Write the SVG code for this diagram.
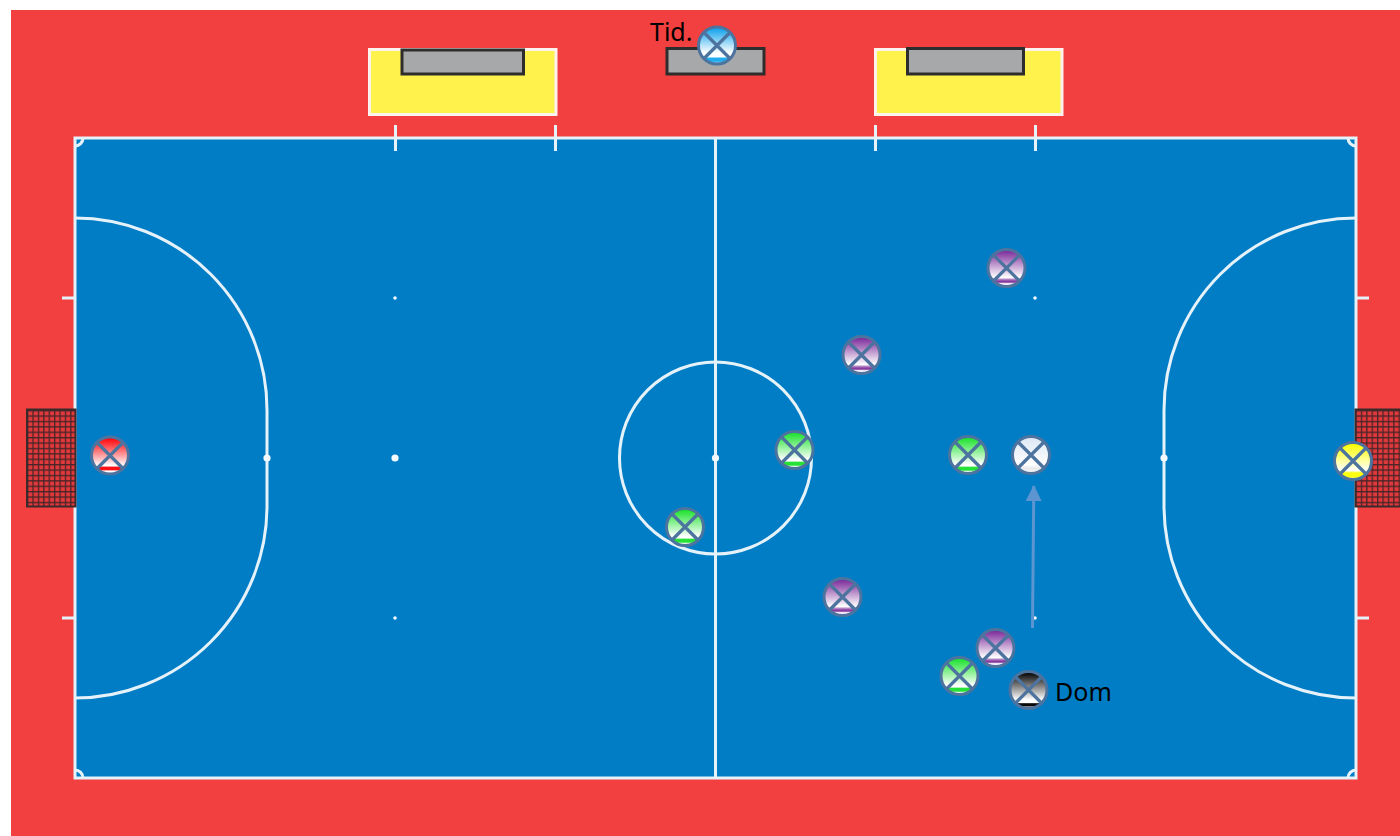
<svg xmlns="http://www.w3.org/2000/svg" width="1400" height="836" viewBox="0 0 1400 836">
<style>
.ln{fill:none;stroke:#e6f2f9;stroke-width:3}
.dot{fill:#f4fafd}
.bench{fill:#fff24d;stroke:#fdf3ee;stroke-width:3}
.seat{fill:#a6a8aa;stroke:#2e2d2d;stroke-width:3}
.net{fill:url(#mesh);stroke:#3a2a2c;stroke-width:2}
.ring{stroke:#4d739f;stroke-width:3}
.x{stroke:#4d739f;stroke-width:3.200;fill:none}
.lab{font-family:"Noto Sans","DejaVu Sans",sans-serif;font-size:25px;fill:#000}
.arrow{stroke:#5c95cf;stroke-width:3;fill:none;marker-end:url(#head)}
</style>
<defs>
<pattern id="mesh" width="5.400" height="5.400" patternUnits="userSpaceOnUse" x="27" y="410">
<rect width="5.400" height="5.400" fill="#e0393c"/>
<path d="M0 0H5.400M0 0V5.400" stroke="#4a2528" stroke-width="2.600" fill="none"/>
</pattern>
<marker id="head" markerUnits="userSpaceOnUse" markerWidth="16" markerHeight="16" refX="15" refY="8" orient="auto">
<path d="M0 0L16 8L0 16Z" fill="#5c95cf"/>
</marker>
<linearGradient id="gRed" x1="0" y1="0" x2="0" y2="1">
<stop offset=".04" stop-color="#ff0509"/><stop offset=".78" stop-color="#fff"/><stop offset=".82" stop-color="#ff1015"/><stop offset=".88" stop-color="#ff1015"/><stop offset=".92" stop-color="#fff"/><stop offset="1" stop-color="#fff"/>
</linearGradient>
<linearGradient id="gGreen" x1="0" y1="0" x2="0" y2="1">
<stop offset=".05" stop-color="#1fe230"/><stop offset=".76" stop-color="#fff"/><stop offset=".8" stop-color="#fff"/><stop offset=".83" stop-color="#26e236"/><stop offset=".91" stop-color="#26e236"/><stop offset=".94" stop-color="#dff8e0"/><stop offset="1" stop-color="#fff"/>
</linearGradient>
<linearGradient id="gPurple" x1="0" y1="0" x2="0" y2="1">
<stop offset=".05" stop-color="#7f2f9c"/><stop offset=".76" stop-color="#fff"/><stop offset=".82" stop-color="#a568b8"/><stop offset=".88" stop-color="#7a2c95"/><stop offset=".92" stop-color="#f3e8f6"/><stop offset="1" stop-color="#fff"/>
</linearGradient>
<linearGradient id="gBlue" x1="0" y1="0" x2="0" y2="1">
<stop offset=".05" stop-color="#14a4ec"/><stop offset=".7" stop-color="#fff"/><stop offset=".8" stop-color="#fff"/><stop offset=".85" stop-color="#20acee"/><stop offset=".92" stop-color="#20acee"/><stop offset="1" stop-color="#cfeefb"/>
</linearGradient>
<linearGradient id="gWhite" x1="0" y1="0" x2="0" y2="1">
<stop offset=".05" stop-color="#dde8f5"/><stop offset=".76" stop-color="#fff"/><stop offset=".86" stop-color="#e9e9ec"/><stop offset="1" stop-color="#f8f8f9"/>
</linearGradient>
<linearGradient id="gYellow" x1="0" y1="0" x2="0" y2="1">
<stop offset=".05" stop-color="#ffff00"/><stop offset=".76" stop-color="#fff"/><stop offset=".82" stop-color="#ffff10"/><stop offset=".92" stop-color="#ffff10"/><stop offset="1" stop-color="#fffbc0"/>
</linearGradient>
<linearGradient id="gBlack" x1="0" y1="0" x2="0" y2="1">
<stop offset=".05" stop-color="#0a0a0a"/><stop offset=".76" stop-color="#fff"/><stop offset=".84" stop-color="#fff"/><stop offset=".87" stop-color="#0a0a0a"/><stop offset=".93" stop-color="#0a0a0a"/><stop offset=".96" stop-color="#eee"/><stop offset="1" stop-color="#fff"/>
</linearGradient>
<g id="cross"><path class="x" d="M-13 -13L13 13M13 -13L-13 13"/></g>
</defs>
<rect width="1400" height="836" fill="#fff"/>
<rect x="11" y="10" width="1389" height="826" fill="#f1403f"/>
<g id="court">
<rect x="75" y="138" width="1281" height="640" fill="#007dc5" stroke="#e6f2f9" stroke-width="3"/>
<path class="ln" d="M715.500 138V778"/>
<circle class="ln" cx="715.500" cy="458" r="96"/>
<path class="ln" d="M75 218A192 192 0 0 1 267 410V506A192 192 0 0 1 75 698"/>
<path class="ln" d="M1356 218A192 192 0 0 0 1164 410V506A192 192 0 0 0 1356 698"/>
<path class="ln" d="M395.500 125V151M555.500 125V151M875.500 125V151M1035.500 125V151M62 298H75M62 618H75M1356 298H1369M1356 618H1369"/>
<path class="ln" d="M75 146A8 8 0 0 0 83 138M1348 138A8 8 0 0 0 1356 146M75 770A8 8 0 0 1 83 778M1348 778A8 8 0 0 1 1356 770"/>
<circle class="dot" cx="395" cy="298" r="1.800"/><circle class="dot" cx="395" cy="618" r="1.800"/>
<circle class="dot" cx="1035" cy="298" r="1.800"/><circle class="dot" cx="1035" cy="618" r="1.800"/>
<circle class="dot" cx="395" cy="458" r="3.600"/><circle class="dot" cx="715.500" cy="458" r="3.600"/>
<circle class="dot" cx="267" cy="458" r="3.600"/><circle class="dot" cx="1164" cy="458" r="3.600"/>
</g>
<g id="bench-left"><rect class="bench" x="369.500" y="49.500" width="186.500" height="65"/><rect class="seat" x="402" y="50" width="121.500" height="24"/></g>
<g id="bench-right"><rect class="bench" x="875.500" y="49.500" width="186.500" height="65"/><rect class="seat" x="907.500" y="48.500" width="116" height="25.500"/></g>
<g id="table"><rect class="seat" x="667" y="48.500" width="97" height="25.500"/></g>
<g id="goal-left"><rect class="net" x="27" y="409.500" width="48.500" height="97"/></g>
<g id="goal-right"><rect class="net" x="1355.500" y="409.500" width="50" height="97"/></g>
<g id="connectors"><path class="arrow" d="M1032.500 628L1033.800 486"/></g>
<g id="n-tid"><circle class="ring" cx="717" cy="45.500" r="18.500" fill="url(#gBlue)"/><use href="#cross" x="717" y="45.500"/><text class="lab" x="650" y="41">Tid.</text></g>
<g id="n-p1"><circle class="ring" cx="1006.500" cy="268" r="18.500" fill="url(#gPurple)"/><use href="#cross" x="1006.500" y="268"/></g>
<g id="n-p2"><circle class="ring" cx="861.500" cy="355" r="18.500" fill="url(#gPurple)"/><use href="#cross" x="861.500" y="355"/></g>
<g id="n-g1"><circle class="ring" cx="794.500" cy="450" r="18.500" fill="url(#gGreen)"/><use href="#cross" x="794.500" y="450"/></g>
<g id="n-g2"><circle class="ring" cx="968" cy="455" r="18.500" fill="url(#gGreen)"/><use href="#cross" x="968" y="455"/></g>
<g id="n-w"><circle class="ring" cx="1031" cy="455" r="18.500" fill="url(#gWhite)"/><use href="#cross" x="1031" y="455"/></g>
<g id="n-y"><circle class="ring" cx="1353" cy="461" r="18.500" fill="url(#gYellow)"/><use href="#cross" x="1353" y="461"/></g>
<g id="n-r"><circle class="ring" cx="110" cy="455.500" r="18.500" fill="url(#gRed)"/><use href="#cross" x="110" y="455.500"/></g>
<g id="n-g3"><circle class="ring" cx="685" cy="527" r="18.500" fill="url(#gGreen)"/><use href="#cross" x="685" y="527"/></g>
<g id="n-p3"><circle class="ring" cx="842.500" cy="597" r="18.500" fill="url(#gPurple)"/><use href="#cross" x="842.500" y="597"/></g>
<g id="n-p4"><circle class="ring" cx="995.500" cy="648" r="18.500" fill="url(#gPurple)"/><use href="#cross" x="995.500" y="648"/></g>
<g id="n-g4"><circle class="ring" cx="959.500" cy="676" r="18.500" fill="url(#gGreen)"/><use href="#cross" x="959.500" y="676"/></g>
<g id="n-dom"><circle class="ring" cx="1028.500" cy="690" r="18.500" fill="url(#gBlack)"/><use href="#cross" x="1028.500" y="690"/><text class="lab" x="1055" y="701">Dom</text></g>
</svg>
